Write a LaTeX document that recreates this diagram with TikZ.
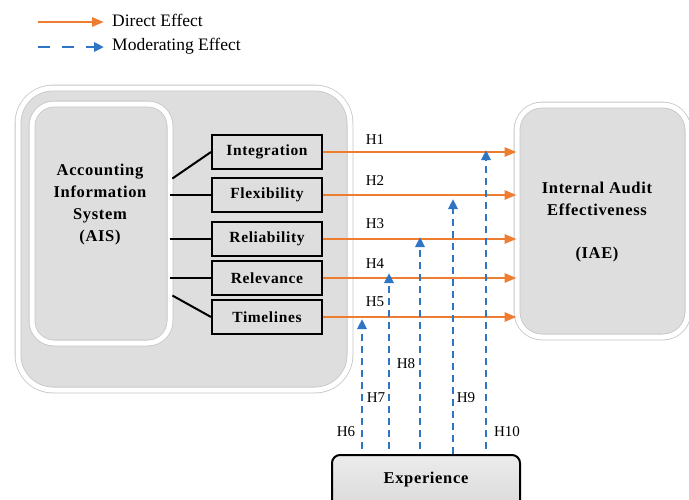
\documentclass[tikz,border=0pt]{standalone}
\usepackage{fontspec}
\setmainfont{Liberation Serif}
\newfontfamily\spaced[LetterSpace=4]{Liberation Serif}
\usetikzlibrary{arrows.meta,calc}
\definecolor{dirc}{HTML}{ED7D31}
\definecolor{modc}{HTML}{2E75C4}
\definecolor{boxfill}{HTML}{DEDEDE}
\begin{document}
\begin{tikzpicture}[x=1pt,y=-1pt,
  softbox/.style={draw=gray!45, double=white, double distance=5pt, line width=0.8pt, fill=boxfill, inner sep=0},
  factor/.style={draw=black, line width=2pt, fill=boxfill, minimum width=110pt, minimum height=34pt, inner sep=0, font=\fontsize{15.5}{17}\spaced\bfseries},
  bl/.style={inner sep=0, font=\fontsize{16.5}{22}\spaced\bfseries, align=center},
  direct/.style={draw=dirc, line width=2.6pt, -{Triangle[length=12pt,width=9pt]}},
  mod/.style={draw=modc, line width=2.8pt, dash pattern=on 7pt off 5pt, -{Triangle[length=10pt,width=9pt]}},
  link/.style={draw=black, line width=2pt},
  hlab/.style={inner sep=0, font=\fontsize{15}{16}\selectfont},
  leg/.style={inner sep=0, anchor=west, font=\fontsize{17.5}{18}\selectfont}]
\useasboundingbox (0,0) rectangle (689,499);
\fill[white] (0,0) rectangle (689,499);
% legend
\coordinate (l1a) at (38,22); \coordinate (l1b) at (104,22);
\coordinate (l2a) at (38,47); \coordinate (l2b) at (104,47);
\draw[direct] (l1a) -- (l1b);
\draw[mod, dash pattern=on 12pt off 12pt] (l2a) -- (l2b);
\node[leg] (l1t) at (112,20) {Direct Effect};
\node[leg] (l2t) at (112,46) {Moderating Effect};
% AIS container
\node[softbox, rounded corners=35pt, minimum width=332pt, minimum height=302pt] (outer) at (184,239) {};
\node[softbox, rounded corners=22pt, minimum width=138pt, minimum height=239pt] (ais) at (101,223.5) {};
\node[bl] (aist) at (100,205) {Accounting\\Information\\System\\(AIS)};
% factors
\node[factor] (int) at (267,152) {Integration};
\node[factor] (flex) at (267,195) {Flexibility};
\node[factor] (rel) at (267,239) {Reliability};
\node[factor] (relv) at (267,278) {Relevance};
\node[factor] (tim) at (267,317) {Timelines};
\draw[link] ($(ais.east)+(2,-45)$) -- (int.west);
\draw[link] (ais.east |- flex.west) -- (flex.west);
\draw[link] (ais.east |- rel.west) -- (rel.west);
\draw[link] (ais.east |- relv.west) -- (relv.west);
\draw[link] ($(ais.east)+(2,72)$) -- (tim.west);
% IAE
\node[softbox, rounded corners=25pt, minimum width=171pt, minimum height=232pt] (iae) at (602.5,221) {};
\node[bl] (iae1) at (597,199) {Internal Audit\\Effectiveness};
\node[bl] (iae2) at (597,255) {(IAE)};
% direct arrows
\draw[direct] (int.east) -- (int.east -| iae.west);
\draw[direct] (flex.east) -- (flex.east -| iae.west);
\draw[direct] (rel.east) -- (rel.east -| iae.west);
\draw[direct] (relv.east) -- (relv.east -| iae.west);
\draw[direct] (tim.east) -- (tim.east -| iae.west);
\node[hlab] (h1) at (375,140) {H1};
\node[hlab] (h2) at (375,181) {H2};
\node[hlab] (h3) at (375,224) {H3};
\node[hlab] (h4) at (375,264) {H4};
\node[hlab] (h5) at (375,302) {H5};
% experience
\node[draw=black, line width=2pt, rounded corners=8pt, top color=gray!15, bottom color=gray!30, minimum width=188pt, minimum height=56pt, inner sep=0] (exp) at (426,483) {};
\node[bl] (expt) at (426,480) {Experience};
% moderating arrows
\coordinate (t6) at (362,319);
\coordinate (t7) at (389,273);
\coordinate (t8) at (420,237);
\coordinate (t9) at (453,199);
\coordinate (t10) at (486,150);
\draw[mod, shorten <=5pt] (exp.north -| t6) -- (t6);
\draw[mod, shorten <=5pt] (exp.north -| t7) -- (t7);
\draw[mod, shorten <=5pt] (exp.north -| t8) -- (t8);
\draw[mod] (exp.north -| t9) -- (t9);
\draw[mod, shorten <=5pt] (exp.north -| t10) -- (t10);
\node[hlab] (h6) at (346,432) {H6};
\node[hlab] (h7) at (376,398) {H7};
\node[hlab] (h8) at (406,364) {H8};
\node[hlab] (h9) at (466,398) {H9};
\node[hlab] (h10) at (507,432) {H10};
\end{tikzpicture}
\end{document}
